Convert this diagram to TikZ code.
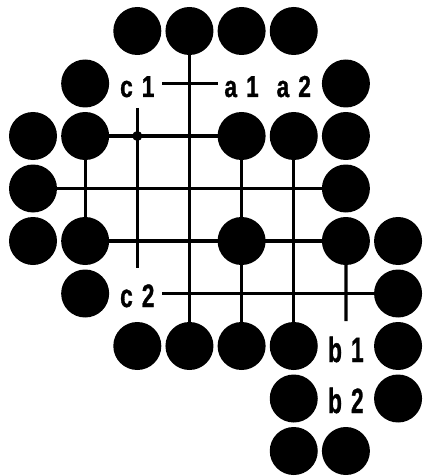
\documentclass[tikz,border=0pt]{standalone}
\usepackage{fontspec}
\usepackage{graphicx}
\setmainfont{Liberation Sans}
\newfontfamily\labfont[FakeBold=1.2]{Liberation Sans Bold}
\newcommand{\glab}[3]{\scalebox{0.84}[#1]{#2\hspace{0.4em}#3}}
\begin{document}
\begin{tikzpicture}[x=1pt,y=-1pt,
  stone/.style={circle,fill=black,inner sep=0pt,minimum size=48pt},
  gridline/.style={line width=3.3pt},
  lab/.style={font=\labfont\fontsize{27}{27}\selectfont,inner sep=0pt,anchor=base}]
\useasboundingbox (0,0) rectangle (424,476);
% grid coordinates
\foreach \i in {1,...,8}{
  \foreach \j in {1,...,9}{
    \coordinate (p-\i-\j) at ({33+52.15*(\i-1)},{31+52.5*(\j-1)});
  }
}
\coordinate (c1e) at (162,83.5);
\coordinate (a1w) at (218,83.5);
\coordinate (c3t) at (137.3,108);
\coordinate (c3b) at (137.3,268);
\coordinate (c2e) at (162,293.5);
\coordinate (c7b) at (345.9,321);
% lines
\draw[gridline] (c1e) -- (a1w);
\draw[gridline] (c3t) -- (c3b);
\draw[gridline] (c2e) -- (p-8-6);
\draw[gridline] (p-7-5) -- (c7b);
\draw[gridline] (p-4-1) -- (p-4-7);
\draw[gridline] (p-2-3) -- (p-2-5);
\draw[gridline] (p-5-3) -- (p-5-7);
\draw[gridline] (p-6-3) -- (p-6-7);
\draw[gridline] (p-2-3) -- (p-5-3);
\draw[gridline] (p-1-4) -- (p-7-4);
\draw[gridline] (p-2-5) -- (p-7-5);
\fill (p-3-3) circle (5pt) node (hoshi) {};
% stones
\foreach \i/\j in {3/1,4/1,5/1,6/1,
  2/2,7/2,
  1/3,2/3,5/3,6/3,7/3,
  1/4,7/4,
  1/5,2/5,5/5,7/5,8/5,
  2/6,8/6,
  3/7,4/7,5/7,6/7,8/7,
  6/8,8/8,
  6/9,7/9}{
  \node[stone] (s-\i-\j) at (p-\i-\j) {};
}
% labels
\node[lab] (lc1) at (137.3,97) {\glab{1.12}{c}{1}};
\node[lab] (la1) at (241.6,97) {\glab{1.12}{a}{1}};
\node[lab] (la2) at (293.8,97) {\glab{1.12}{a}{2}};
\node[lab] (lc2) at (137.3,307) {\glab{1.2}{c}{2}};
\node[lab] (lb1) at (345.9,362) {\glab{1.3}{b}{1}};
\node[lab] (lb2) at (345.9,413) {\glab{1.3}{b}{2}};
\end{tikzpicture}
\end{document}
